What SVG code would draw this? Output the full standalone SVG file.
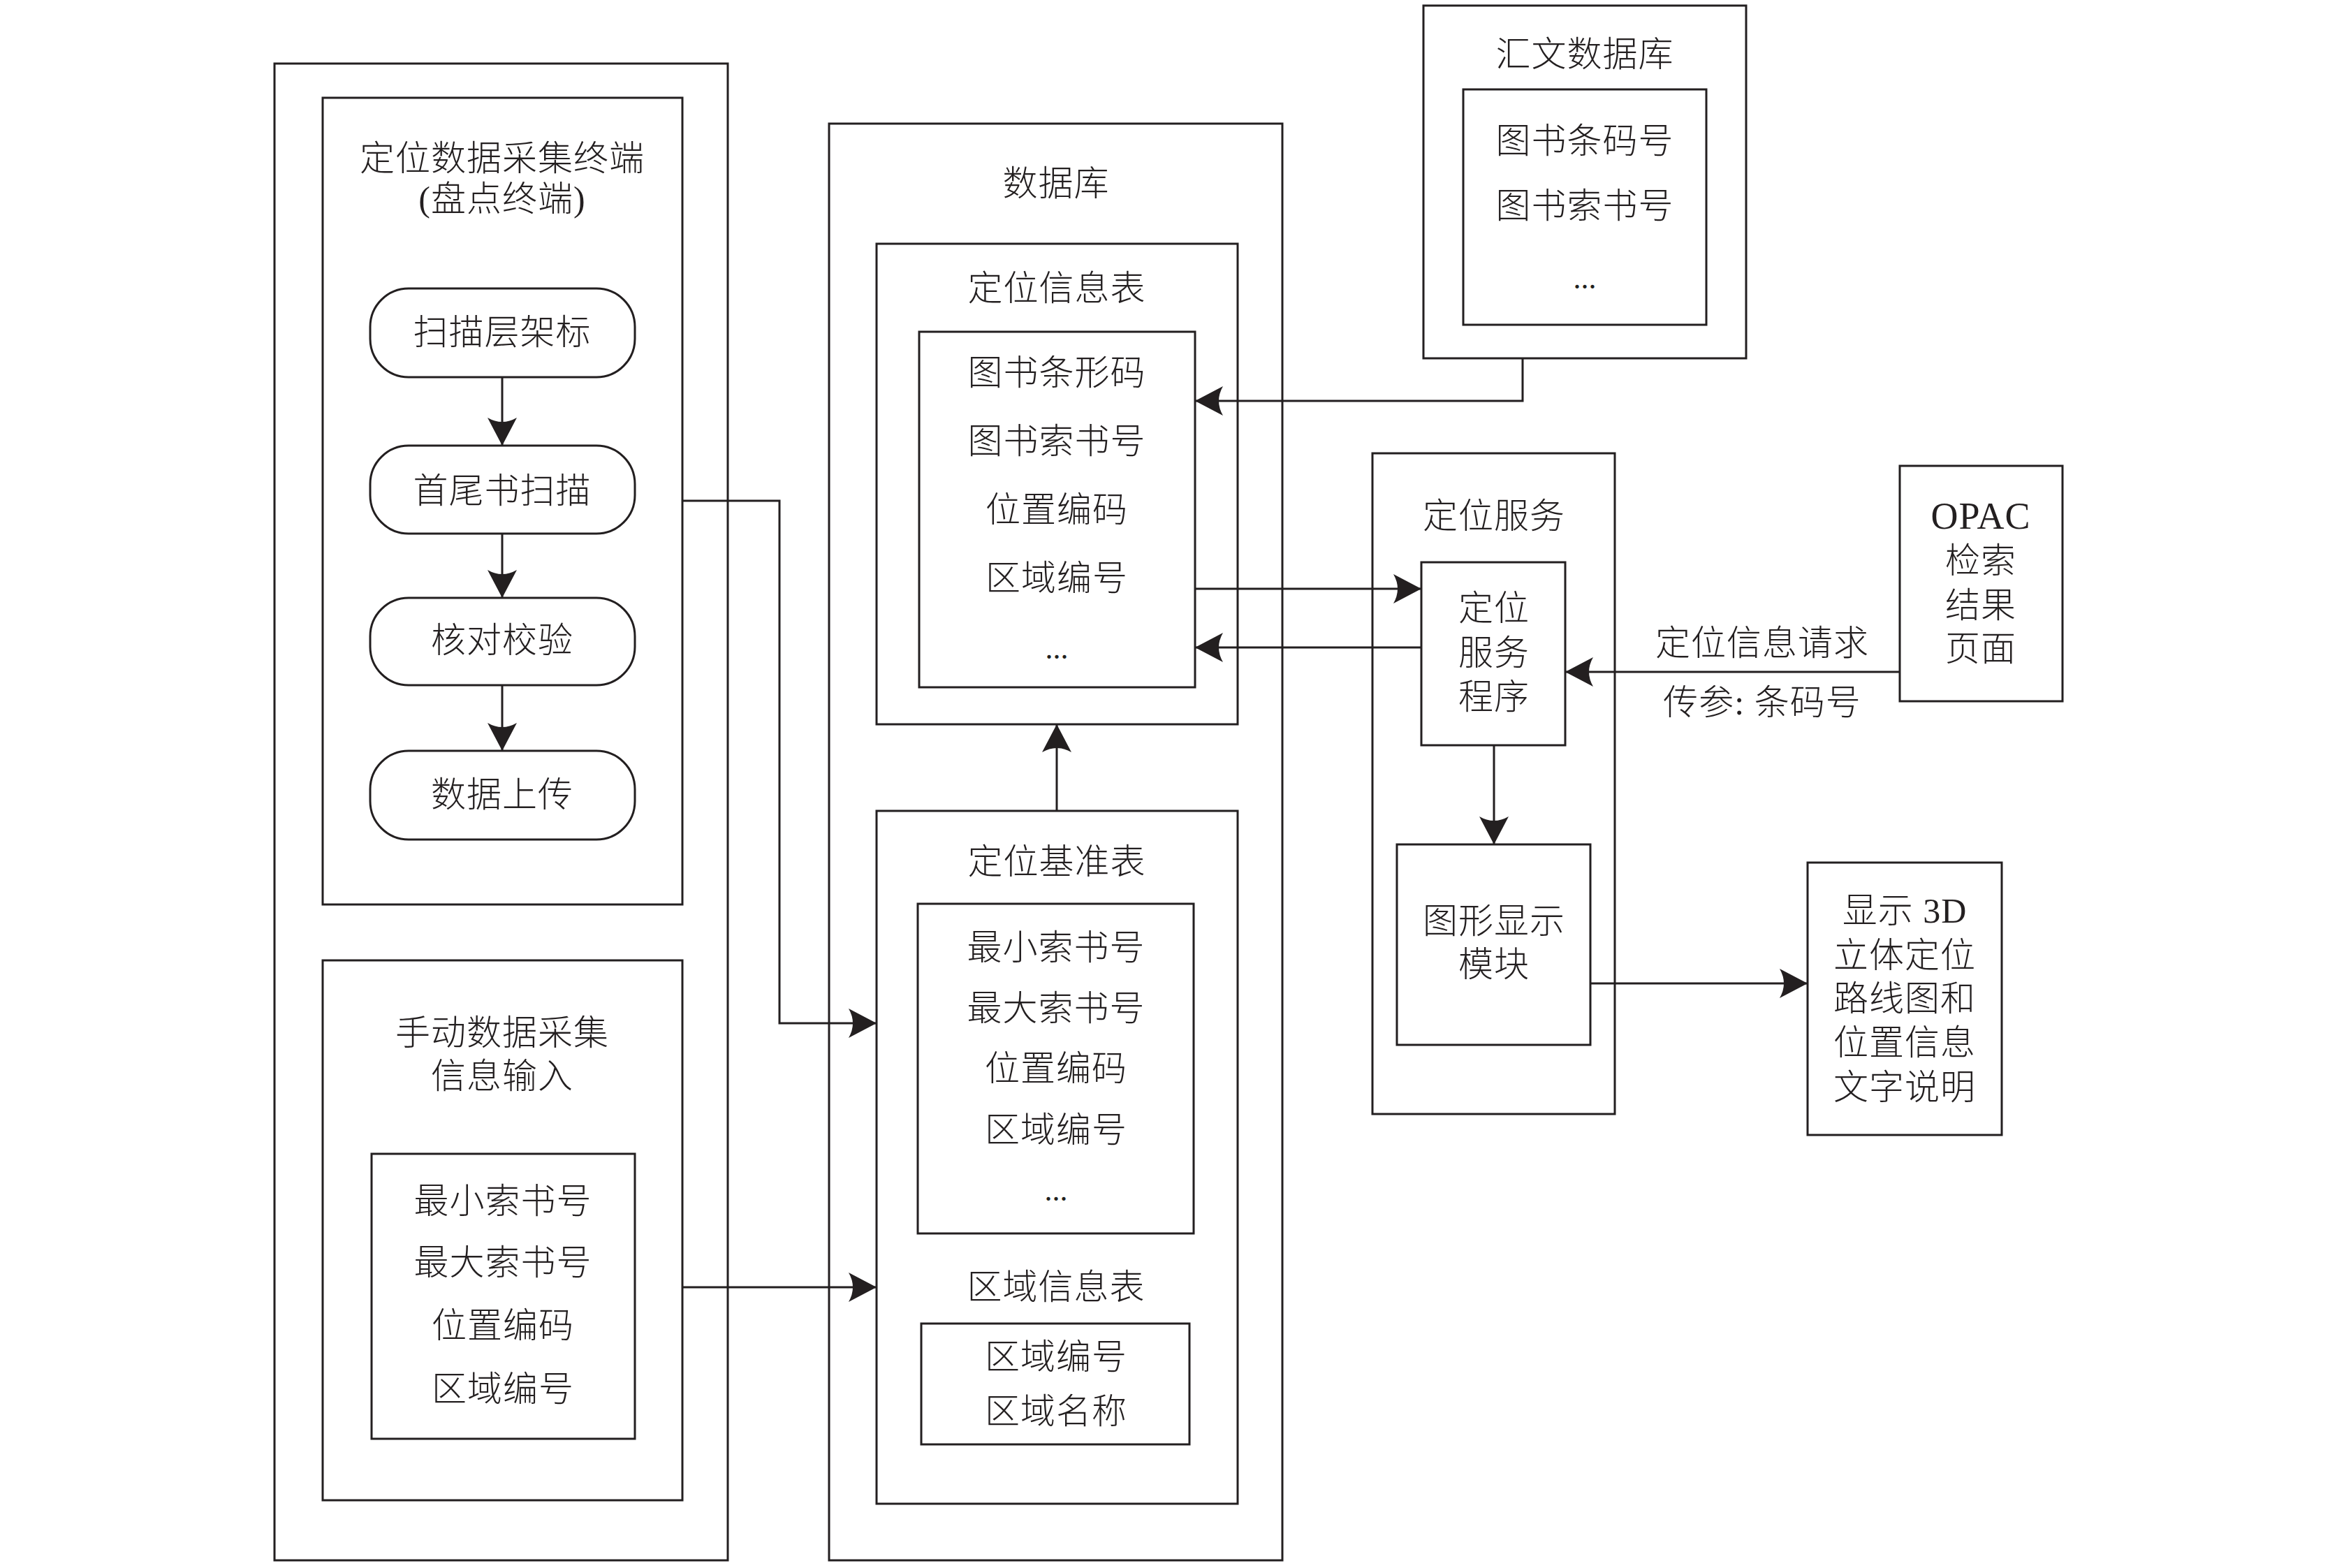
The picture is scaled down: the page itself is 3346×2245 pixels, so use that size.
<svg xmlns="http://www.w3.org/2000/svg" width="3346" height="2245" viewBox="0 0 3346 2245">
<style>
.b{fill:none;stroke:#231f20;stroke-width:3}
.c{fill:none;stroke:#231f20;stroke-width:3}
.t{font-family:"Liberation Serif","Noto Sans CJK SC",serif;font-size:50px;font-weight:300;letter-spacing:1px;text-anchor:middle;fill:#231f20}
.d{font-family:"Liberation Serif",serif;font-size:44px;text-anchor:middle;fill:#231f20}
</style>
<defs>
<marker id="ah" markerUnits="userSpaceOnUse" markerWidth="40" markerHeight="42" viewBox="0 0 40 42" refX="40" refY="21" orient="auto">
<path d="M40,21 L0,0 Q12,21 0,42 Z" fill="#231f20"/>
</marker>
</defs>
<rect width="3346" height="2245" fill="#ffffff"/>

<g id="collect-panel">
<rect class="b" x="393" y="91" width="649" height="2143"/>
</g>
<g id="terminal">
<rect class="b" x="462" y="140" width="515" height="1155"/>
<text class="t" x="719" y="244">定位数据采集终端</text>
<text class="t" x="719" y="302">(盘点终端)</text>
</g>
<g id="step-scan-shelf">
<rect class="b" x="530" y="413" width="379" height="127" rx="55"/>
<text class="t" x="719" y="493">扫描层架标</text>
</g>
<g id="step-scan-books">
<rect class="b" x="530" y="638" width="379" height="126" rx="55"/>
<text class="t" x="719" y="720">首尾书扫描</text>
</g>
<g id="step-check">
<rect class="b" x="530" y="856" width="379" height="125" rx="55"/>
<text class="t" x="719" y="934">核对校验</text>
</g>
<g id="step-upload">
<rect class="b" x="530" y="1075" width="379" height="127" rx="55"/>
<text class="t" x="719" y="1155">数据上传</text>
</g>
<g id="manual">
<rect class="b" x="462" y="1375" width="515" height="773"/>
<text class="t" x="719" y="1496">手动数据采集</text>
<text class="t" x="719" y="1558">信息输入</text>
<rect class="b" x="532" y="1652" width="377" height="408"/>
<text class="t" x="720" y="1737">最小索书号</text>
<text class="t" x="720" y="1825">最大索书号</text>
<text class="t" x="720" y="1915">位置编码</text>
<text class="t" x="720" y="2006">区域编号</text>
</g>

<g id="database">
<rect class="b" x="1187" y="177" width="649" height="2057"/>
<text class="t" x="1512" y="280">数据库</text>
</g>
<g id="loc-info-table">
<rect class="b" x="1255" y="349" width="517" height="688"/>
<text class="t" x="1513" y="430">定位信息表</text>
<rect class="b" x="1316" y="475" width="395" height="509"/>
<text class="t" x="1513" y="551">图书条形码</text>
<text class="t" x="1513" y="649">图书索书号</text>
<text class="t" x="1513" y="747">位置编码</text>
<text class="t" x="1513" y="845">区域编号</text>
<text class="d" x="1513" y="943">...</text>
</g>
<g id="loc-base-table">
<rect class="b" x="1255" y="1161" width="517" height="992"/>
<text class="t" x="1513" y="1251">定位基准表</text>
<rect class="b" x="1314" y="1294" width="395" height="472"/>
<text class="t" x="1512" y="1374">最小索书号</text>
<text class="t" x="1512" y="1461">最大索书号</text>
<text class="t" x="1512" y="1547">位置编码</text>
<text class="t" x="1512" y="1635">区域编号</text>
<text class="d" x="1512" y="1719">...</text>
<text class="t" x="1512" y="1860">区域信息表</text>
<rect class="b" x="1319" y="1895" width="384" height="173"/>
<text class="t" x="1512" y="1960">区域编号</text>
<text class="t" x="1512" y="2038">区域名称</text>
</g>

<g id="huiwen-db">
<rect class="b" x="2038" y="8" width="462" height="505"/>
<text class="t" x="2269" y="95">汇文数据库</text>
<rect class="b" x="2095" y="128" width="348" height="337"/>
<text class="t" x="2269" y="219">图书条码号</text>
<text class="t" x="2269" y="312">图书索书号</text>
<text class="d" x="2269" y="413">...</text>
</g>

<g id="loc-service">
<rect class="b" x="1965" y="649" width="347" height="946"/>
<text class="t" x="2139" y="756">定位服务</text>
</g>
<g id="service-program">
<rect class="b" x="2035" y="805" width="206" height="262"/>
<text class="t" x="2139" y="888">定位</text>
<text class="t" x="2139" y="952">服务</text>
<text class="t" x="2139" y="1015">程序</text>
</g>
<g id="graphic-module">
<rect class="b" x="2000" y="1209" width="277" height="287"/>
<text class="t" x="2139" y="1336">图形显示</text>
<text class="t" x="2139" y="1398">模块</text>
</g>
<g id="opac">
<rect class="b" x="2720" y="667" width="233" height="337"/>
<text class="t" x="2836" y="757" style="font-size:54px">OPAC</text>
<text class="t" x="2836" y="820">检索</text>
<text class="t" x="2836" y="884">结果</text>
<text class="t" x="2836" y="946">页面</text>
</g>
<g id="display-3d">
<rect class="b" x="2588" y="1235" width="278" height="390"/>
<text class="t" x="2727" y="1321">显示 3D</text>
<text class="t" x="2727" y="1385">立体定位</text>
<text class="t" x="2727" y="1447">路线图和</text>
<text class="t" x="2727" y="1510">位置信息</text>
<text class="t" x="2727" y="1574">文字说明</text>
</g>

<g id="connectors">
<path class="c" d="M719,540 V638" marker-end="url(#ah)"/>
<path class="c" d="M719,764 V856" marker-end="url(#ah)"/>
<path class="c" d="M719,981 V1075" marker-end="url(#ah)"/>
<path class="c" d="M977,717 H1116 V1465 H1255" marker-end="url(#ah)"/>
<path class="c" d="M977,1843 H1255" marker-end="url(#ah)"/>
<path class="c" d="M1513,1161 V1037" marker-end="url(#ah)"/>
<path class="c" d="M2180,513 V574 H1711" marker-end="url(#ah)"/>
<path class="c" d="M1711,843 H2035" marker-end="url(#ah)"/>
<path class="c" d="M2035,927 H1711" marker-end="url(#ah)"/>
<path class="c" d="M2720,962 H2241" marker-end="url(#ah)"/>
<path class="c" d="M2139,1067 V1209" marker-end="url(#ah)"/>
<path class="c" d="M2277,1408 H2588" marker-end="url(#ah)"/>
<text class="t" x="2523" y="938">定位信息请求</text>
<text class="t" x="2523" y="1023">传参: 条码号</text>
</g>
</svg>
